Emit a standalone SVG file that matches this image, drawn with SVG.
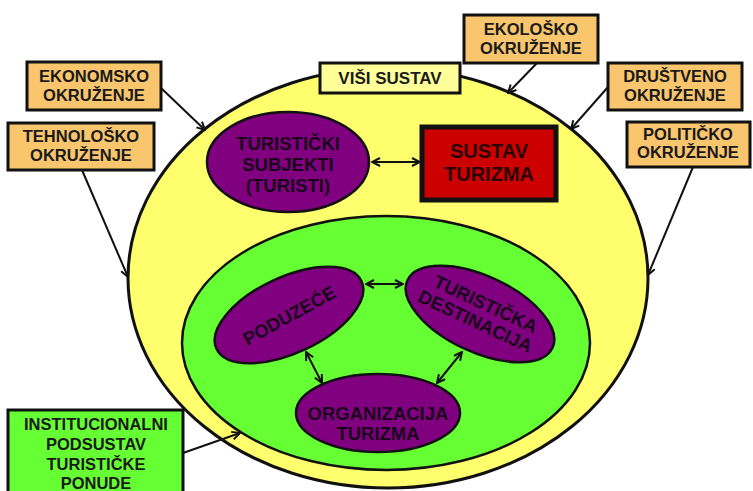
<svg xmlns="http://www.w3.org/2000/svg" width="753" height="491" viewBox="0 0 753 491">
<defs>
<marker id="ah" viewBox="0 0 10 10" refX="9" refY="5" markerWidth="10" markerHeight="10" markerUnits="userSpaceOnUse" orient="auto-start-reverse">
<path d="M1,1 L9,5 L1,9" fill="none" stroke="#111" stroke-width="2"/>
</marker>
<style>
.t{font-family:"Liberation Sans",Arial,sans-serif;font-weight:bold;text-anchor:middle;fill:#1a1a1a}
.box{fill:#F9C66E;stroke:#111;stroke-width:3}
.pur{fill:#800080;stroke:#111;stroke-width:2.5}
.pt{font-family:"Liberation Sans",Arial,sans-serif;font-weight:bold;text-anchor:middle;fill:#1a001a;font-size:18.5px}
.c{fill:none;stroke:#111;stroke-width:2}
</style>
</defs>
<rect width="753" height="491" fill="#fff"/>
<g id="visi-sustav-ellipse">
<ellipse cx="388" cy="278" rx="260" ry="210" fill="#FFFF6E" stroke="#111" stroke-width="3"/>
</g>
<g id="institucionalni-ellipse">
<ellipse cx="386" cy="343" rx="204" ry="127" fill="#66FF33" stroke="#111" stroke-width="2.5"/>
</g>
<g id="visi-sustav">
<rect x="320" y="63" width="140" height="30" fill="#FFFF99" stroke="#111" stroke-width="3"/>
<text class="t" x="390" y="84" font-size="17">VIŠI SUSTAV</text>
</g>
<g id="ekonomsko">
<rect class="box" x="27" y="62" width="134" height="48"/>
<text class="t" x="94" y="82" font-size="16.5">EKONOMSKO</text>
<text class="t" x="94" y="101" font-size="16.5">OKRUŽENJE</text>
</g>
<g id="tehnolosko">
<rect class="box" x="8" y="123" width="146" height="47"/>
<text class="t" x="81" y="142" font-size="16.5">TEHNOLOŠKO</text>
<text class="t" x="81" y="161" font-size="16.5">OKRUŽENJE</text>
</g>
<g id="ekolosko">
<rect class="box" x="464" y="15" width="134" height="48"/>
<text class="t" x="531" y="35" font-size="16.5">EKOLOŠKO</text>
<text class="t" x="531" y="54" font-size="16.5">OKRUŽENJE</text>
</g>
<g id="drustveno">
<rect class="box" x="608" y="63" width="134" height="47"/>
<text class="t" x="675" y="82" font-size="16.5">DRUŠTVENO</text>
<text class="t" x="675" y="101" font-size="16.5">OKRUŽENJE</text>
</g>
<g id="politicko">
<rect class="box" x="627" y="122" width="123" height="45"/>
<text class="t" x="688" y="140" font-size="16.5">POLITIČKO</text>
<text class="t" x="688" y="158" font-size="16.5">OKRUŽENJE</text>
</g>
<g id="institucionalni">
<rect x="8" y="410" width="175" height="84" fill="#66FF33" stroke="#111" stroke-width="3"/>
<text class="t" x="96" y="430" font-size="16.5">INSTITUCIONALNI</text>
<text class="t" x="96" y="450" font-size="16.5">PODSUSTAV</text>
<text class="t" x="96" y="470" font-size="16.5">TURISTIČKE</text>
<text class="t" x="96" y="489" font-size="16.5">PONUDE</text>
</g>
<g id="turisticki-subjekti">
<ellipse class="pur" cx="288" cy="162" rx="81" ry="50"/>
<text class="pt" x="288" y="150" font-size="18">TURISTIČKI</text>
<text class="pt" x="288" y="171" font-size="18">SUBJEKTI</text>
<text class="pt" x="288" y="192" font-size="18">(TURISTI)</text>
</g>
<g id="sustav-turizma">
<rect x="422" y="127" width="134" height="73" fill="#CC0000" stroke="#111" stroke-width="5"/>
<text class="t" x="489" y="158" font-size="20" style="fill:#2a0000">SUSTAV</text>
<text class="t" x="489" y="181" font-size="20" style="fill:#2a0000">TURIZMA</text>
</g>
<g id="poduzece">
<ellipse class="pur" cx="289" cy="315" rx="80" ry="38" transform="rotate(-25 289 315)"/>
<text class="pt" x="289" y="322" font-size="19" transform="rotate(-29 289 315)">PODUZEĆE</text>
</g>
<g id="turisticka-destinacija">
<ellipse class="pur" cx="480" cy="314" rx="80" ry="38" transform="rotate(25 480 314)"/>
<g transform="rotate(25 480 314)">
<text class="pt" x="481" y="309">TURISTIČKA</text>
<text class="pt" x="479" y="329">DESTINACIJA</text>
</g>
</g>
<g id="organizacija-turizma">
<ellipse class="pur" cx="378" cy="413" rx="82" ry="39"/>
<text class="pt" x="378" y="420">ORGANIZACIJA</text>
<text class="pt" x="378" y="440">TURIZMA</text>
</g>
<g id="connectors">
<line class="c" x1="161" y1="88" x2="205" y2="130" marker-end="url(#ah)"/>
<line class="c" x1="82" y1="170" x2="128" y2="277" marker-end="url(#ah)"/>
<line class="c" x1="537" y1="63" x2="508" y2="93" marker-end="url(#ah)"/>
<line class="c" x1="608" y1="87" x2="571" y2="129" marker-end="url(#ah)"/>
<line class="c" x1="693" y1="167" x2="648" y2="275" marker-end="url(#ah)"/>
<line class="c" x1="183" y1="453" x2="240" y2="433" marker-end="url(#ah)"/>
<line class="c" x1="372" y1="162" x2="420" y2="162" marker-start="url(#ah)" marker-end="url(#ah)"/>
<line class="c" x1="366" y1="284" x2="403" y2="284" marker-start="url(#ah)" marker-end="url(#ah)"/>
<line class="c" x1="306" y1="352" x2="322" y2="383" marker-start="url(#ah)" marker-end="url(#ah)"/>
<line class="c" x1="462" y1="352" x2="437" y2="383" marker-start="url(#ah)" marker-end="url(#ah)"/>
</g>
</svg>
